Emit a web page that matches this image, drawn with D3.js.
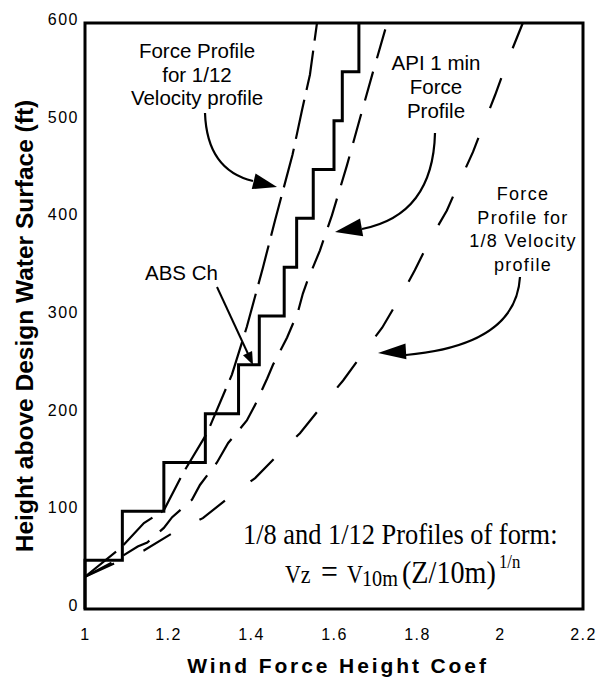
<!DOCTYPE html>
<html>
<head>
<meta charset="utf-8">
<script src="https://cdn.jsdelivr.net/npm/d3@7"></script>
<style>
body{margin:0;background:#fff;}
</style>
</head>
<body>
<div id="chart"></div>
<script>
// ticks
var xTicks=[1,1.2,1.4,1.6,1.8,2,2.2];
var yTicks=[0,100,200,300,400,500,600];

// ABS Ch: height at bottom of each band (ft) and coef of the band
var absHeights=[0,50,100,150,200,250,300,350,400,450,500,550,600];
var absCoef=[1.00,1.09,1.19,1.29,1.37,1.42,1.48,1.51,1.55,1.60,1.62,1.66,1.66];

// force profile for 1/12 velocity profile
var h12=[33,63,88,101,139,180,240,289,350,398,465,511,547,600];
var c12=[1.0,1.087,1.142,1.19,1.236,1.294,1.354,1.39,1.429,1.458,1.5,1.523,1.542,1.559];

// API 1 min force profile
var hApi=[33,47,64,68,83,94,112,127,150,170,193,209,236,250,278,304,323,335,367,403,454,503,550,600];
var cApi=[1.0,1.063,1.127,1.15,1.19,1.21,1.258,1.277,1.318,1.345,1.39,1.41,1.439,1.453,1.487,1.513,1.525,1.535,1.566,1.595,1.631,1.663,1.694,1.728];

// force profile for 1/8 velocity profile
var h8=[33,48,60,78,93,115,134,163,180,209,234,262,288,319,347,378,408,439,468,500,526,562,600];
var c8=[1.0,1.077,1.142,1.212,1.284,1.349,1.41,1.477,1.518,1.573,1.622,1.67,1.716,1.759,1.795,1.831,1.872,1.904,1.935,1.964,1.988,2.019,2.055];

var ancho=598, alto=679;
var sans="'Liberation Sans', Arial, sans-serif";
var serif="'Liberation Serif', 'Times New Roman', serif";

var svg=d3.select("#chart").append("svg")
	.attr("width",ancho).attr("height",alto)
	.style("background","#fff");

var x=d3.scaleLinear().domain([1,2.2]).range([85,583]);
var y=d3.scaleLinear().domain([0,600]).range([609,23]);

// ejes (sin marcas, solo etiquetas)
svg.append("g")
	.attr("transform","translate(0,609)")
	.call(d3.axisBottom(x).tickValues(xTicks).tickSize(0).tickPadding(20).tickFormat(d3.format("~g")))
	.call(g=>g.select(".domain").remove())
	.selectAll("text")
	.style("font-family",sans).style("font-size","16px").style("letter-spacing","1.5px")
	.attr("fill","#000");

svg.append("g")
	.attr("transform","translate(85,0)")
	.call(d3.axisLeft(y).tickValues(yTicks).tickSize(0).tickPadding(6).tickFormat(d3.format("d")))
	.call(g=>g.select(".domain").remove())
	.selectAll("text")
	.attr("dy","0.1em")
	.style("font-family",sans).style("font-size","16px").style("letter-spacing","1.5px")
	.attr("fill","#000");

// titulos
svg.append("text")
	.attr("transform","translate(33,326) rotate(-90)")
	.attr("text-anchor","middle")
	.style("font-family",sans).style("font-size","24.5px").style("font-weight","bold")
	.text("Height above Design Water Surface (ft)");

svg.append("text")
	.attr("x",338).attr("y",673)
	.attr("text-anchor","middle")
	.style("font-family",sans).style("font-size","21px").style("font-weight","bold")
	.style("letter-spacing","2.9px")
	.text("Wind Force Height Coef");

// curvas
var linea=d3.line().x(d=>x(d[1])).y(d=>y(d[0]));

var curvas=[
	{h:h12,c:c12,dash:"40 10"},
	{h:hApi,c:cApi,dash:"30 14"},
	{h:h8,c:c8,dash:"32 32"}
];
curvas.forEach(function(k){
	svg.append("path")
		.datum(d3.zip(k.h,k.c))
		.attr("d",linea)
		.attr("fill","none")
		.attr("stroke","#000")
		.attr("stroke-width",2.2)
		.attr("stroke-dasharray",k.dash);
});

// escalera ABS
svg.append("path")
	.datum(d3.zip(absHeights,absCoef))
	.attr("d",d3.line().curve(d3.curveStepBefore).x(d=>x(d[1])).y(d=>y(d[0])))
	.attr("fill","none")
	.attr("stroke","#000")
	.attr("stroke-width",3)
	.attr("stroke-linejoin","miter");

// marco
svg.append("rect")
	.attr("x",x(1)).attr("y",y(600))
	.attr("width",x(2.2)-x(1)).attr("height",y(0)-y(600))
	.attr("fill","none").attr("stroke","#000").attr("stroke-width",3);

// anotaciones
function bloque(lineas,cx,y0,dy,size,ls){
	lineas.forEach(function(t,i){
		svg.append("text")
			.attr("x",cx).attr("y",y0+i*dy)
			.attr("text-anchor","middle")
			.style("font-family",sans).style("font-size",size+"px")
			.style("letter-spacing",(ls||0)+"px")
			.text(t);
	});
}
bloque(["Force Profile","for 1/12","Velocity profile"],197,58,23.5,20.5);
bloque(["API 1 min","Force","Profile"],436,70,24,20.5);
bloque(["Force","Profile for","1/8 Velocity","profile"],523,200,23.5,18,1.3);
svg.append("text").attr("x",145).attr("y",280)
	.style("font-family",sans).style("font-size","20.5px").text("ABS Ch");

function punta(tip,from,len,half){
	var dx=tip[0]-from[0], dy=tip[1]-from[1], n=Math.hypot(dx,dy);
	var ux=dx/n, uy=dy/n;
	var bx=tip[0]-ux*len, by=tip[1]-uy*len;
	svg.append("path")
		.attr("d",`M${tip[0]},${tip[1]}L${bx-uy*half},${by+ux*half}L${bx+uy*half},${by-ux*half}Z`)
		.attr("fill","#000");
}
var flechas=[
	{p0:[205,113],c:[207,170],p1:[253,181],tip:[277,187],len:24,half:8},
	{p0:[435,133],c:[433,215],p1:[362,229],tip:[335,232],len:27,half:9},
	{p0:[520,277],c:[516,345],p1:[406,355],tip:[378,353],len:28,half:8}
];
flechas.forEach(function(f){
	svg.append("path")
		.attr("d",`M${f.p0}Q${f.c} ${f.p1}`)
		.attr("fill","none").attr("stroke","#000").attr("stroke-width",2.2);
	punta(f.tip,f.c,f.len,f.half);
});
svg.append("line").attr("x1",217).attr("y1",287).attr("x2",249).attr("y2",356)
	.attr("stroke","#000").attr("stroke-width",2);
punta([253,365],[217,287],13,5);

// formula (texto algo comprimido en horizontal, como en el original)
var f1=svg.append("g").attr("transform","translate(243,544) scale(0.88,1)");
f1.append("text")
	.attr("x",0).attr("y",0)
	.style("font-family",serif).style("font-size","30px")
	.text("1/8 and 1/12 Profiles of form:");

var piezas=[
	{t:"Vz",x:285,size:25,dy:0},
	{t:"=",x:321,size:34,dy:0},
	{t:"V",x:347,size:25,dy:0},
	{t:"10m",x:362,size:23,dy:3},
	{t:"(Z/10m)",x:402,size:32,dy:0},
	{t:"1/n",x:499,size:19,dy:-15}
];
var f2=svg.append("g").attr("transform","translate(0,583) scale(0.88,1)");
piezas.forEach(function(p){
	f2.append("text")
		.attr("x",p.x/0.88).attr("y",p.dy)
		.style("font-family",serif).style("font-size",p.size+"px")
		.text(p.t);
});
</script>
</body>
</html>
